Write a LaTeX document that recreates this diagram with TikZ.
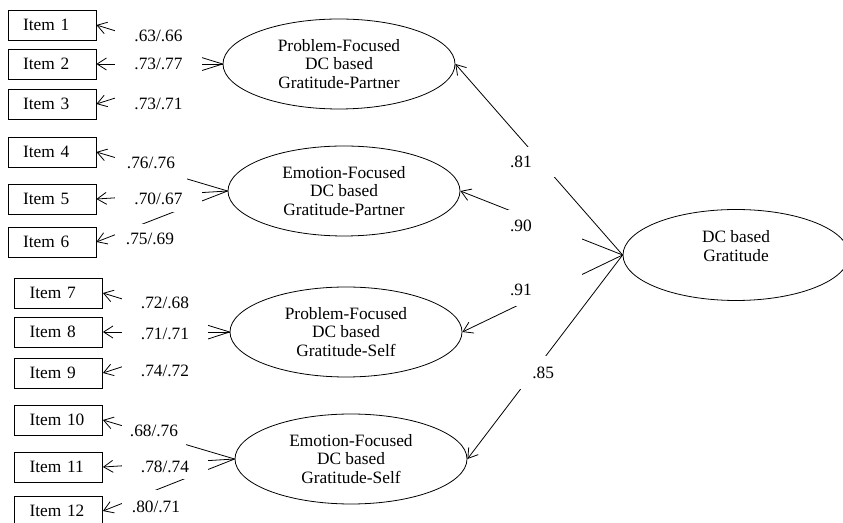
\documentclass[tikz,border=0pt]{standalone}
\usepackage{fontspec}
\setmainfont{Liberation Serif}
\usetikzlibrary{arrows.meta, shapes.geometric}

\begin{document}
\begin{tikzpicture}[
    x=0.75pt, y=-0.75pt,
    font=\fontsize{13pt}{14pt}\selectfont,
    itembox/.style={
        draw,
        minimum height=22.5pt,
        text width=43.5pt,
        inner xsep=11.25pt,
        align=left,
        line width=0.6pt
    },
    factor/.style={
        draw,
        ellipse,
        minimum width=174pt,
        minimum height=67.5pt,
        inner sep=0pt,
        align=center,
        line width=0.6pt
    },
    coef/.style={
        fill=white,
        inner sep=0pt,
        align=center
    },
    arrow/.style={
        -{Straight Barb[length=7pt,width=9pt]},
        line width=0.6pt
    }
]

\useasboundingbox (0,0) rectangle (843,523);

% observed items
\node[itembox] (i1) at (52,25) {Item 1};
\node[itembox] (i2) at (52,64) {Item 2};
\node[itembox] (i3) at (52,104) {Item 3};
\node[itembox] (i4) at (52,152) {Item 4};
\node[itembox] (i5) at (52,199) {Item 5};
\node[itembox] (i6) at (52,242) {Item 6};
\node[itembox] (i7) at (58.5,293) {Item 7};
\node[itembox] (i8) at (58.5,332) {Item 8};
\node[itembox] (i9) at (58.5,373) {Item 9};
\node[itembox] (i10) at (58.5,420) {Item 10};
\node[itembox] (i11) at (58.5,467) {Item 11};
\node[itembox] (i12) at (58.5,511) {Item 12};

% first-order factors
\node[factor] (pfp) at (339,64) {Problem-Focused\\DC based\\Gratitude-Partner};
\node[factor] (efp) at (344,191) {Emotion-Focused\\DC based\\Gratitude-Partner};
\node[factor] (pfs) at (346,332) {Problem-Focused\\DC based\\Gratitude-Self};
\node[factor] (efs) at (351,459) {Emotion-Focused\\DC based\\Gratitude-Self};

% second-order factor
\node[factor, minimum width=169.5pt, minimum height=68.25pt] (gen) at (736,255) {DC based\\Gratitude\\\mbox{}};

\draw[arrow] (pfp.west) -- (i1.east);
\draw[arrow] (pfp.west) -- (i2.east);
\draw[arrow] (pfp.west) -- (i3.east);
\draw[arrow] (efp.west) -- (i4.east);
\draw[arrow] (efp.west) -- (i5.east);
\draw[arrow] (efp.west) -- (i6.east);
\draw[arrow] (pfs.west) -- (i7.east);
\draw[arrow] (pfs.west) -- (i8.east);
\draw[arrow] (pfs.west) -- (i9.east);
\draw[arrow] (efs.west) -- (i10.east);
\draw[arrow] (efs.west) -- (i11.east);
\draw[arrow] (efs.west) -- (i12.east);

\draw[arrow] (gen.west) -- (pfp.east);
\draw[arrow] (gen.west) -- (efp.east);
\draw[arrow] (gen.west) -- (pfs.east);
\draw[arrow] (gen.west) -- (efs.east);

% loadings (white boxes over the lines)
\node[coef, minimum width=65.25pt, minimum height=21pt] (l1) at (158.5,36) {.63/.66};
\node[coef, minimum width=65.25pt, minimum height=25.5pt] (l2) at (158.5,64) {.73/.77};
\node[coef, minimum width=65.25pt, minimum height=36pt] (l3) at (158.5,104) {.73/.71};
\node[coef, minimum width=54pt, minimum height=25.5pt] (l4) at (151,163) {.76/.76};
\node[coef, minimum width=65.25pt, minimum height=19.5pt] (l5) at (158.5,199) {.70/.67};
\node[coef, minimum width=52.5pt, minimum height=22.5pt] (l6) at (150,239) {.75/.69};
\node[coef, minimum width=64.5pt, minimum height=22.5pt] (l7) at (165,303) {.72/.68};
\node[coef, minimum width=64.5pt, minimum height=27pt] (l8) at (165,334) {.71/.71};
\node[coef, minimum width=64.5pt, minimum height=31.5pt] (l9) at (165,371) {.74/.72};
\node[coef, minimum width=48pt, minimum height=25.5pt] (l10) at (154,431) {.68/.76};
\node[coef, minimum width=64.5pt, minimum height=18.75pt] (l11) at (165,467) {.78/.74};
\node[coef, minimum width=51pt, minimum height=25.5pt] (l12) at (156,507) {.80/.71};

\node[coef, text width=33pt, inner xsep=2.25pt, align=left, minimum height=22.5pt] (g1) at (532,162) {.81};
\node[coef, text width=51.75pt, inner xsep=2.25pt, align=left, minimum height=24pt] (g2) at (544.5,226) {.90};
\node[coef, text width=51.75pt, inner xsep=2.25pt, align=left, minimum height=24pt] (g3) at (544.5,290) {.91};
\node[coef, text width=24.75pt, inner xsep=4.5pt, align=right, minimum height=24.75pt] (g4) at (537.5,372.5) {.85};

\end{tikzpicture}
\end{document}
